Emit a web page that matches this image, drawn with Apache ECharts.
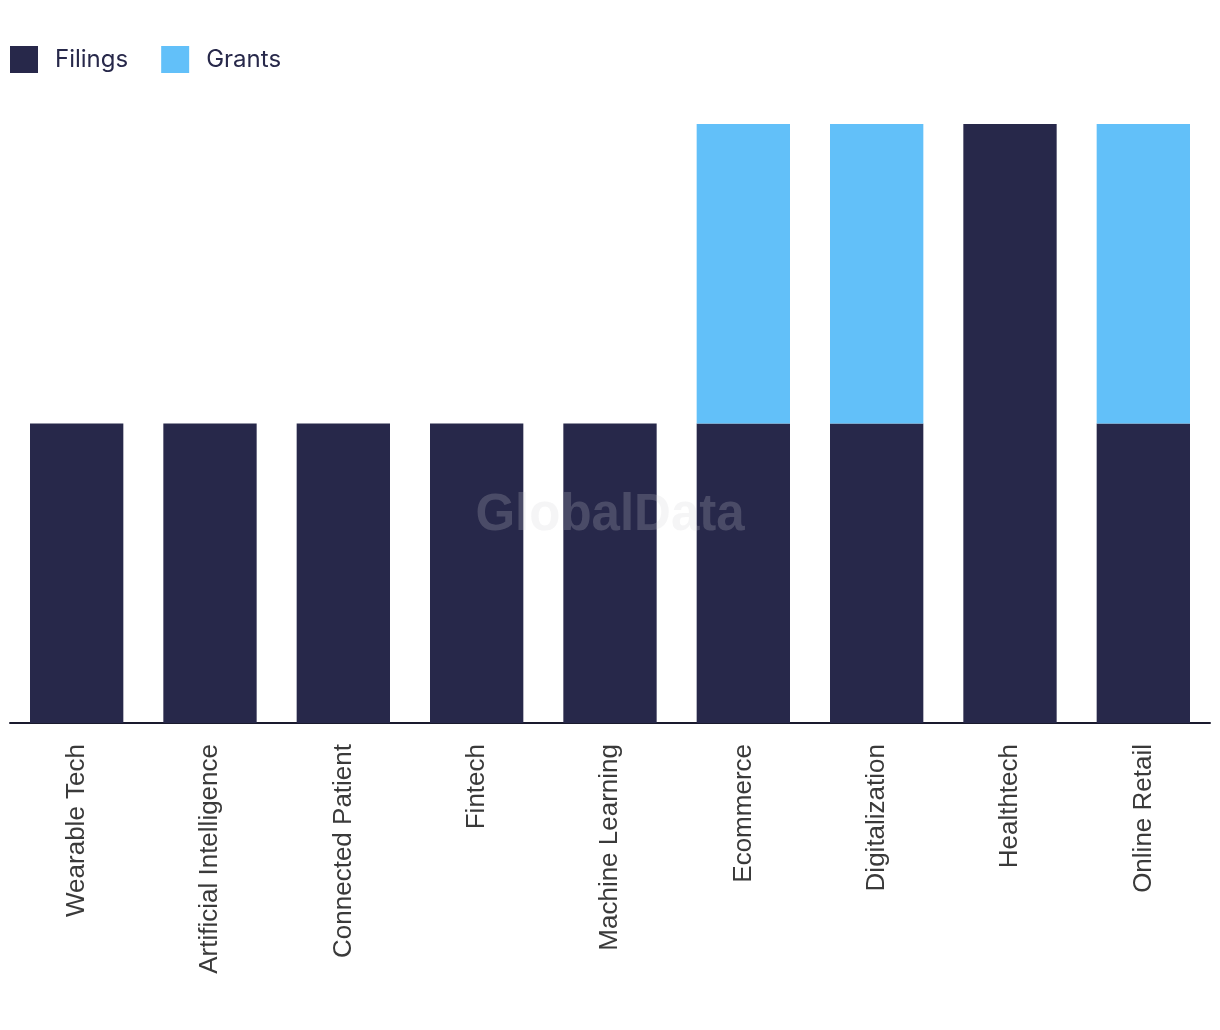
<!DOCTYPE html>
<html><head><meta charset="utf-8">
<script src="https://cdn.jsdelivr.net/npm/echarts@6/dist/echarts.min.js"></script>
<style>html,body{margin:0;padding:0;background:#fff}#c{width:1220px;height:1030px}</style>
</head><body><div id="c"></div>
<script>
const categories = ["Wearable Tech","Artificial Intelligence","Connected Patient","Fintech","Machine Learning","Ecommerce","Digitalization","Healthtech","Online Retail"];
const filings = [1,1,1,1,1,1,1,2,1];
const grants = [0,0,0,0,0,1,1,0,1];

const chart = echarts.init(document.getElementById('c'));
chart.setOption({
  animation: false,
  legend: {
    left: 10, top: 46, padding: 0, itemWidth: 28, itemHeight: 27, itemGap: 33,
    icon: 'rect',
    textStyle: { fontFamily: 'Inter', fontSize: 24, color: '#27284a', padding: [0,0,0,12] },
    data: ['Filings','Grants']
  },
  grid: { left: 10, right: 10, top: 124, bottom: 307, containLabel: false },
  xAxis: {
    type: 'category', data: categories,
    axisLine: { lineStyle: { color: '#1a1a2e', width: 2 } },
    axisTick: { show: false },
    axisLabel: { rotate: 90, fontFamily: 'Liberation Sans', fontSize: 26, color: '#3a3a3a', margin: 21 }
  },
  yAxis: { type: 'value', min: 0, max: 2, show: false, splitLine: { show: false } },
  series: [
    { name: 'Filings', type: 'bar', stack: 'a', data: filings, barCategoryGap: '30%', itemStyle: { color: '#27284a' } },
    { name: 'Grants', type: 'bar', stack: 'a', data: grants, barCategoryGap: '30%', itemStyle: { color: '#62c0f9' } }
  ],
  graphic: [{
    type: 'text', x: 610, y: 516, z: 100,
    style: { text: 'GlobalData', font: 'bold 51px "Liberation Sans"', fill: 'rgba(206,206,214,0.21)', align: 'center', verticalAlign: 'middle' }
  }]
});
</script></body></html>
